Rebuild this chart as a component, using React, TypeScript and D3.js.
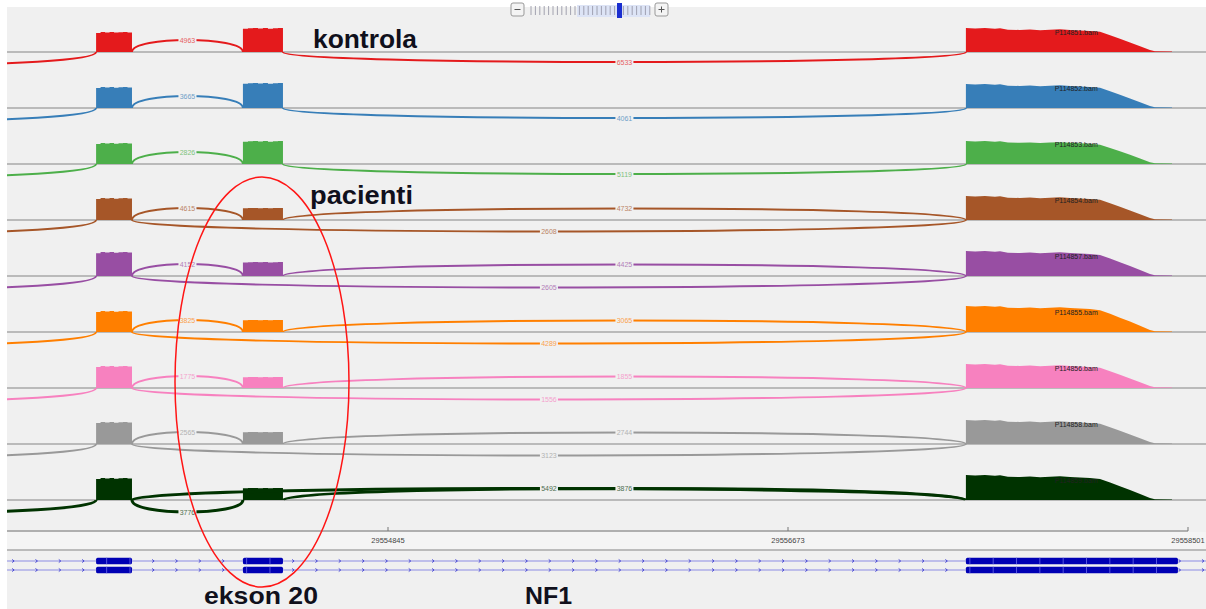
import React from "react";
import * as d3 from "d3";

// sashimi tracks, top to bottom (3 controls, 6 patients)
const trackColors = ["#e41a1c", "#377eb8", "#4daf4a", "#a65628", "#984ea3", "#ff7f00", "#f781bf", "#999999", "#003300"];
const trackNames = ["P114851.bam", "P114852.bam", "P114853.bam", "P114854.bam", "P114857.bam", "P114855.bam", "P114856.bam", "P114858.bam", "P114859.bam"];

// coverage height of each exon per track (autoscaled units)
const exon1Cov = [20, 21, 21, 22, 24, 21, 22, 22, 22];
const exon2Cov = [24, 25, 23, 12, 14, 12, 11, 12, 12];
const exon3Cov = [24, 24, 23, 24, 25, 26, 24, 24, 25];

// junction read counts
const juncE1E2 = [4963, 3665, 2826, 4615, 4152, 3825, 1775, 2565, 3776];
const juncE2E3 = [6533, 4061, 5119, 4732, 4425, 3065, 1855, 2744, 3876];
const juncE1E3 = [0, 0, 0, 2608, 2605, 4289, 1556, 3123, 5492];
// 1 = arc above the baseline, -1 = below, 0 = none
const sideE1E2 = [1, 1, 1, 1, 1, 1, 1, 1, -1];
const sideE2E3 = [-1, -1, -1, 1, 1, 1, 1, 1, 1];
const sideE1E3 = [0, 0, 0, -1, -1, -1, -1, -1, 1];
const arcWidths = [2, 2, 2, 2, 2, 2, 2, 2, 3];

// exons of NF1 in view (ekson 19, ekson 20, ekson 21)
const exonStarts = [29553511, 29554182, 29557486];
const exonEnds = [29553675, 29554365, 29558455];
const upstreamEnd = 29551790;

// relative coverage shape across exons
const exon1Shape = [0.95, 1, 0.98, 1, 0.97, 0.99, 1, 0.98, 0.97];
const exon2Shape = [0.97, 0.99, 1, 0.98, 1, 0.97, 0.99, 1, 0.98];
const exon3Pos = [29557486, 29557528, 29557573, 29557619, 29557642, 29557678, 29557733, 29557779, 29557825, 29557870, 29557916, 29557962, 29558007, 29558053, 29558099, 29558145, 29558190, 29558236, 29558282, 29558327, 29558350, 29558428];
const exon3Shape = [1, 0.98, 1, 0.97, 0.99, 0.93, 0.92, 0.94, 0.91, 0.93, 0.95, 0.92, 0.9, 0.88, 0.84, 0.7, 0.55, 0.4, 0.24, 0.08, 0.03, 0.02];

const axisTicks = [29553017, 29554845, 29556673, 29558501];

const W = 1206;
const H = 609;
const BG = "#f0f0f0";
const FONT = "'Liberation Sans', Arial, sans-serif";

const App = () => {
  const x = d3.scaleLinear().domain([29554845, 29556673]).range([388, 788]);
  const baseY = d3.scaleLinear().domain([0, 1]).range([52, 108]);
  const covY = d3.scaleLinear().domain([0, 26]).range([0, 26]);

  const exonArea = (start: number, end: number, shape: number[], cov: number, y0: number) => {
    const step = (end - start) / (shape.length - 1);
    const pts = shape.map((s, j) => [start + j * step, s * cov] as [number, number]);
    return d3.area<[number, number]>()
      .x(d => x(d[0]))
      .y0(y0)
      .y1(d => y0 - covY(d[1]))
      .curve(d3.curveStepAfter)(pts);
  };

  const tailArea = (cov: number, y0: number) => {
    const pts = exon3Pos.map((p, j) => [p, exon3Shape[j] * cov] as [number, number]);
    return d3.area<[number, number]>()
      .x(d => x(d[0]))
      .y0(y0)
      .y1(d => y0 - covY(d[1]))(pts);
  };

  const arcPath = (p1: number, p2: number, y0: number, h: number) => {
    const x1 = x(p1), x2 = x(p2);
    const k = h / 0.75;
    const p = d3.path();
    p.moveTo(x1, y0);
    p.bezierCurveTo(x1, y0 - k, x2, y0 - k, x2, y0);
    return p.toString();
  };

  const arcLabel = (p1: number, p2: number, y0: number, h: number, count: number, color: string, key: string) => {
    const cx = (x(p1) + x(p2)) / 2;
    const cy = y0 - h;
    const txt = String(count);
    return (
      <g key={key}>
        <rect x={cx - 9} y={cy - 3.5} width={18} height={7} fill={BG} />
        <text x={cx} y={cy + 2.5} textAnchor="middle" fontSize={7} fontFamily={FONT} fill={color} opacity={0.7}>{txt}</text>
      </g>
    );
  };

  const strandMarks = d3.range(0, 52).map(k => 13.33 + k * 23.33);
  const onExon = (px: number) => exonStarts.some((s, j) => px >= x(s) && px <= x(exonEnds[j]));

  const zoomTicks = d3.range(0, 28).map(k => 531 + k * 4.4);

  return (
    <svg width={W} height={H} style={{ position: "fixed", left: 0, top: 0, background: "#ffffff" }} fontFamily={FONT}>
      <defs>
        <clipPath id="panel">
          <rect x={7} y={7} width={W - 7} height={H - 7} />
        </clipPath>
      </defs>
      <rect x={0} y={0} width={W} height={H} fill="#ffffff" />
      <rect x={7} y={7} width={W - 7} height={H - 7} fill={BG} />
      <rect x={7} y={532} width={W - 7} height={18} fill="#f4f4f4" />

      <g clipPath="url(#panel)">
        {trackColors.map((color, i) => {
          const y0 = baseY(i);
          const sw = arcWidths[i];
          const arcs: React.ReactNode[] = [];
          const labels: React.ReactNode[] = [];
          // upstream junction coming in from the left
          arcs.push(<path key="up" d={arcPath(upstreamEnd, exonStarts[0], y0, -13)} fill="none" stroke={color} strokeWidth={sw} />);
          const h12 = 12 * sideE1E2[i];
          arcs.push(<path key="a12" d={arcPath(exonEnds[0], exonStarts[1], y0, h12)} fill="none" stroke={color} strokeWidth={sw} />);
          labels.push(arcLabel(exonEnds[0], exonStarts[1], y0, h12, juncE1E2[i], color, "l12"));
          const h23 = (sideE2E3[i] > 0 ? 11.5 : 10) * sideE2E3[i];
          arcs.push(<path key="a23" d={arcPath(exonEnds[1], exonStarts[2], y0, h23)} fill="none" stroke={color} strokeWidth={sw} />);
          labels.push(arcLabel(exonEnds[1], exonStarts[2], y0, h23, juncE2E3[i], color, "l23"));
          if (sideE1E3[i] !== 0) {
            const h13 = 11.5 * sideE1E3[i];
            arcs.push(<path key="a13" d={arcPath(exonEnds[0], exonStarts[2], y0, h13)} fill="none" stroke={color} strokeWidth={sw} />);
            labels.push(arcLabel(exonEnds[0], exonStarts[2], y0, h13, juncE1E3[i], color, "l13"));
          }
          return (
            <g key={i}>
              <line x1={7} x2={W} y1={y0} y2={y0} stroke="#a9a9a9" strokeWidth={1.5} />
              <path d={exonArea(exonStarts[0], exonEnds[0], exon1Shape, exon1Cov[i], y0) || ""} fill={color} />
              <path d={exonArea(exonStarts[1], exonEnds[1], exon2Shape, exon2Cov[i], y0) || ""} fill={color} />
              <path d={tailArea(exon3Cov[i], y0) || ""} fill={color} />
              {arcs}
              {labels}
              <text x={x(29557990)} y={y0 - 17} textAnchor="middle" fontSize={7} fill="#222">{trackNames[i]}</text>
            </g>
          );
        })}

        {/* genomic axis */}
        <line x1={7} x2={x(axisTicks[3])} y1={531} y2={531} stroke="#9a9a9a" strokeWidth={1.5} />
        {axisTicks.map(t => (
          <g key={t}>
            <line x1={x(t)} x2={x(t)} y1={527} y2={531} stroke="#777" strokeWidth={1} />
            <text x={x(t)} y={543} textAnchor="middle" fontSize={7.5} fill="#444">{t}</text>
          </g>
        ))}
        <line x1={7} x2={W} y1={550} y2={550} stroke="#a9a9a9" strokeWidth={1.5} />

        {/* gene track: two NF1 transcripts */}
        {[561, 570].map(gy => (
          <g key={gy}>
            <line x1={7} x2={W} y1={gy} y2={gy} stroke="#8c8ce4" strokeWidth={1.2} />
            {strandMarks.filter(m => !onExon(m)).map(m => (
              <path key={m} d={`M${m - 1.2},${gy - 1.5} L${m + 0.8},${gy} L${m - 1.2},${gy + 1.5}`} fill="none" stroke="#4a4ad4" strokeWidth={1} />
            ))}
            {exonStarts.map((s, j) => (
              <rect key={s} x={x(s)} y={gy - 3.3} width={x(exonEnds[j]) - x(s)} height={6.6} rx={1.5} fill="#0000b4" />
            ))}
            {strandMarks.filter(m => onExon(m)).map(m => (
              <line key={m} x1={m} x2={m} y1={gy - 3.3} y2={gy + 3.3} stroke="#6a6ae8" strokeWidth={0.8} />
            ))}
          </g>
        ))}
      </g>

      {/* zoom widget */}
      <g>
        <rect x={511} y={3} width={13} height={13} rx={2} fill="#f4f4f4" stroke="#999" />
        <line x1={514.5} x2={520.5} y1={9.5} y2={9.5} stroke="#555" />
        <rect x={577} y={5} width={73} height={12} fill="#dde4f6" />
        {zoomTicks.map(t => (
          <line key={t} x1={t} x2={t} y1={6} y2={15} stroke="#8f8f9f" strokeWidth={0.8} />
        ))}
        <rect x={617} y={3} width={5} height={15} fill="#1a2ed0" />
        <rect x={655} y={3} width={13} height={13} rx={2} fill="#f4f4f4" stroke="#999" />
        <line x1={658.5} x2={664.5} y1={9.5} y2={9.5} stroke="#555" />
        <line x1={661.5} x2={661.5} y1={6.5} y2={12.5} stroke="#555" />
      </g>

      {/* annotations */}
      <text x={313} y={48} fontSize={25} fontWeight="bold" fill="#10101c" textLength={104} lengthAdjust="spacingAndGlyphs">kontrola</text>
      <text x={310} y={204} fontSize={25} fontWeight="bold" fill="#10101c" textLength={103} lengthAdjust="spacingAndGlyphs">pacienti</text>
      <text x={204} y={604} fontSize={24} fontWeight="bold" fill="#10101c" textLength={114} lengthAdjust="spacingAndGlyphs">ekson 20</text>
      <text x={525} y={604} fontSize={23} fontWeight="bold" fill="#10101c" textLength={47} lengthAdjust="spacingAndGlyphs">NF1</text>
      <ellipse cx={262} cy={382} rx={87} ry={205} fill="none" stroke="#ff1515" strokeWidth={1.5} />
    </svg>
  );
};

export default App;
